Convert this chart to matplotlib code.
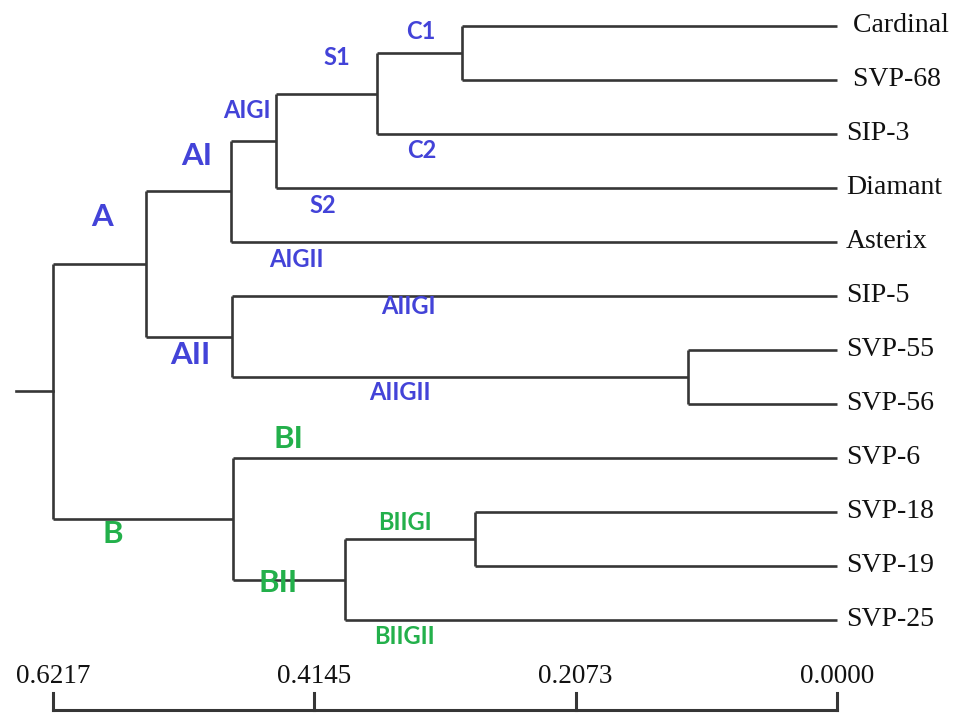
"""
Dendrogram of 12 genotypes with cluster labels.
"""
import matplotlib
matplotlib.use('Agg')
import matplotlib.pyplot as plt

# leaves, top to bottom
leaves = ['Cardinal', 'SVP-68', 'SIP-3', 'Diamant', 'Asterix', 'SIP-5',
          'SVP-55', 'SVP-56', 'SVP-6', 'SVP-18', 'SVP-19', 'SVP-25']
# leading space on the first two, as in the original figure
leaf_text = [' Cardinal', ' SVP-68', 'SIP-3', 'Diamant', 'Asterix', 'SIP-5',
             'SVP-55', 'SVP-56', 'SVP-6', 'SVP-18', 'SVP-19', 'SVP-25']

# merges: node name, upper child, lower child, distance
node_names = ['C1', 'S1', 'AIGI', 'AI', 'AIIGII', 'AII', 'A',
              'BIIGI', 'BII', 'B', 'root']
node_upper = ['Cardinal', 'C1', 'S1', 'AIGI', 'SVP-55', 'SIP-5', 'AI',
              'SVP-18', 'BIIGI', 'SVP-6', 'A']
node_lower = ['SVP-68', 'SIP-3', 'Diamant', 'Asterix', 'SVP-56', 'AIIGII', 'AII',
              'SVP-19', 'SVP-25', 'BII', 'B']
node_height = [0.2974, 0.3648, 0.4449, 0.4806, 0.1182, 0.4798, 0.5480,
               0.2871, 0.3902, 0.4790, 0.6217]

scale_ticks = [0.6217, 0.4145, 0.2073, 0.0000]

# cluster annotations
group_names = ['A', 'AI', 'AII', 'B', 'BI', 'BII',
               'AIGI', 'AIGII', 'S1', 'S2', 'C1', 'C2',
               'AIIGI', 'AIIGII', 'BIIGI', 'BIIGII']
group_x = [0.583, 0.508, 0.513, 0.574, 0.435, 0.443,
           0.468, 0.429, 0.397, 0.408, 0.330, 0.329,
           0.340, 0.347, 0.343, 0.343]
group_y = [3.54, 2.41, 6.09, 9.41, 7.65, 10.31,
           1.56, 4.33, 0.59, 3.33, 0.11, 2.30,
           5.20, 6.78, 9.19, 11.31]
group_big = ['A', 'AI', 'AII', 'B', 'BI', 'BII']

BLUE = '#4343d8'
GREEN = '#23b04b'
LINE = '#363636'

fig = plt.figure(figsize=(9.59, 7.13), dpi=100)
ax = fig.add_axes([0, 0, 1, 1])
ax.set_xlim(0.6637, -0.0967)
ax.set_ylim(12.72, -0.4815)
ax.axis('off')

# positions of every leaf / node
pos = {name: (0.0, i) for i, name in enumerate(leaves)}
for name, up, lo, h in zip(node_names, node_upper, node_lower, node_height):
    yu = pos[up][1]
    yl = pos[lo][1]
    pos[name] = (h, (yu + yl) / 2)
    ax.plot([h, h], [yu, yl], color=LINE, lw=1.9, solid_capstyle='butt')
    for child in (up, lo):
        ax.plot([h, pos[child][0]], [pos[child][1]] * 2, color=LINE, lw=1.9,
                solid_capstyle='butt')

# root stub
rh, ry = pos['root']
ax.plot([rh + 0.029, rh], [ry, ry], color=LINE, lw=1.9)

# leaf labels
for i, txt in enumerate(leaf_text):
    ax.annotate(txt, (0.0, i), xytext=(6.5, -4.3), textcoords='offset points',
                va='baseline', ha='left', fontsize=20,
                family='Liberation Serif', color='#111111')

# cluster labels
for name, gx, gy in zip(group_names, group_x, group_y):
    color = GREEN if name.startswith('B') else BLUE
    size = 22.5 if name in group_big else 17
    ax.text(gx, gy, name, ha='center', va='center', color=color,
            fontsize=size, fontweight='bold', family='Lato')

# scale bar
bar_y = 12.67
ax.plot([scale_ticks[0], scale_ticks[-1]], [bar_y, bar_y], color=LINE, lw=2.2)
for t in scale_ticks:
    ax.plot([t, t], [bar_y, 12.35], color=LINE, lw=2.2)
    ax.text(t, 12.17, f'{t:.4f}', ha='center', va='baseline', fontsize=19.5,
            family='Liberation Serif', color='#111111')

fig.savefig('out.png', dpi=100)
plt.close(fig)
